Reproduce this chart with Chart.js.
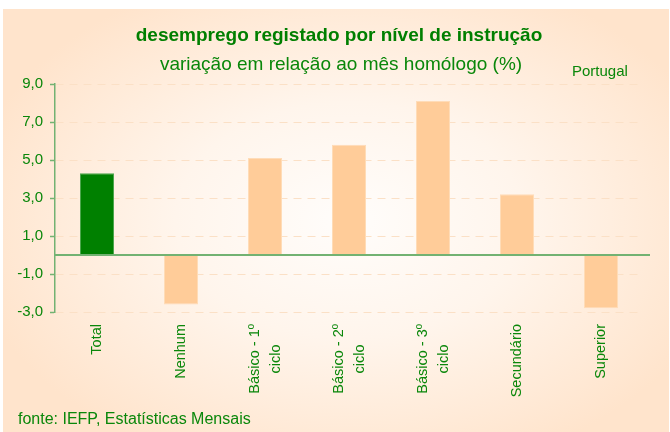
<!DOCTYPE html>
<html>
<head>
<meta charset="utf-8">
<script src="https://cdn.jsdelivr.net/npm/chart.js@4.4.1/dist/chart.umd.min.js"></script>
<style>
    html, body { margin: 0; padding: 0; background: #fff; }
    #wrap { position: relative; width: 670px; height: 432px; }
    #bg {
        position: absolute; left: 3px; top: 9px; width: 666px; height: 423px;
        background: radial-gradient(ellipse 58% 62% at 52% 50%, #fffdfb 0%, #fff5ec 45%, #ffe4cc 100%);
    }
    canvas { position: absolute; left: 0; top: 0; }
</style>
</head>
<body>
<div id="wrap">
    <div id="bg"></div>
    <canvas id="chart" width="670" height="432"></canvas>
</div>
<script>
const categories = ['Total', 'Nenhum', 'Básico - 1º ciclo', 'Básico - 2º ciclo', 'Básico - 3º ciclo', 'Secundário', 'Superior'];
const tickLabels = [
    ['Total'],
    ['Nenhum'],
    ['Básico - 1º', 'ciclo'],
    ['Básico - 2º', 'ciclo'],
    ['Básico - 3º', 'ciclo'],
    ['Secundário'],
    ['Superior']
];
const values = [4.3, -2.6, 5.1, 5.8, 8.1, 3.2, -2.8];
const yTicks = [-3, -1, 1, 3, 5, 7, 9];

const green = '#0a870a';
const font = '"Liberation Sans", Arial, sans-serif';
const barColors = ['#008000', '#ffcc99', '#ffcc99', '#ffcc99', '#ffcc99', '#ffcc99', '#ffcc99'];
const barBorders = ['#4ea64e', '#ffdcb8', '#ffdcb8', '#ffdcb8', '#ffdcb8', '#ffdcb8', '#ffdcb8'];

const zeroLine = {
    id: 'zeroLine',
    afterDatasetsDraw(chart) {
        const { ctx, chartArea, scales } = chart;
        const y = scales.y.getPixelForValue(0);
        ctx.save();
        ctx.strokeStyle = '#72b272';
        ctx.lineWidth = 2;
        ctx.beginPath();
        ctx.moveTo(chartArea.left, y);
        ctx.lineTo(chartArea.right + 7, y);
        ctx.stroke();
        ctx.restore();
    }
};

// rotated category labels, each line centred, block centred on its bar
const xLabels = {
    id: 'xLabels',
    afterDraw(chart) {
        const { ctx, scales } = chart;
        const lh = 21;
        ctx.save();
        ctx.font = '14.5px ' + font;
        ctx.fillStyle = green;
        ctx.textAlign = 'center';
        ctx.textBaseline = 'middle';
        tickLabels.forEach((lines, i) => {
            const px = scales.x.getPixelForValue(i);
            const w = Math.max(...lines.map(l => ctx.measureText(l).width));
            const yc = scales.x.top + 12 + w / 2;
            ctx.save();
            ctx.translate(px, yc);
            ctx.rotate(-Math.PI / 2);
            lines.forEach((l, k) => {
                ctx.fillText(l, 0, (k - (lines.length - 1) / 2) * lh);
            });
            ctx.restore();
        });
        ctx.restore();
    }
};

const texts = {
    id: 'texts',
    afterDraw(chart) {
        const { ctx } = chart;
        ctx.save();
        ctx.textBaseline = 'alphabetic';

        ctx.textAlign = 'center';
        ctx.font = 'bold 19px ' + font;
        ctx.fillStyle = '#007f00';
        ctx.fillText('desemprego registado por nível de instrução', 339, 41);

        ctx.fillStyle = green;
        ctx.font = '19px ' + font;
        ctx.fillText('variação em relação ao mês homólogo (%)', 341, 70);

        ctx.textAlign = 'left';
        ctx.font = '15px ' + font;
        ctx.fillText('Portugal', 572, 76);

        ctx.font = '16px ' + font;
        ctx.fillText('fonte: IEFP, Estatísticas Mensais', 18, 424);
        ctx.restore();
    }
};

new Chart(document.getElementById('chart').getContext('2d'), {
    type: 'bar',
    data: {
        labels: categories,
        datasets: [{
            data: values,
            backgroundColor: barColors,
            borderColor: barBorders,
            borderWidth: 1,
            barPercentage: 0.405,
            categoryPercentage: 1
        }]
    },
    options: {
        responsive: false,
        animation: false,
        layout: {
            padding: { left: 0, right: 27, top: 84, bottom: 0 }
        },
        plugins: {
            legend: { display: false },
            tooltip: { enabled: false }
        },
        scales: {
            x: {
                grid: { display: false, drawTicks: false },
                border: { display: false },
                ticks: { display: false },
                afterFit(scale) { scale.height = 120; }
            },
            y: {
                min: yTicks[0],
                max: yTicks[yTicks.length - 1],
                afterBuildTicks(scale) {
                    scale.ticks = yTicks.map(v => ({ value: v }));
                },
                ticks: {
                    padding: 7,
                    color: green,
                    font: { family: font, size: 15 },
                    callback: v => v.toFixed(1).replace('.', ',')
                },
                grid: {
                    color: '#fbe0c6',
                    lineWidth: 1,
                    drawTicks: true,
                    tickLength: 5,
                    tickColor: '#72b272',
                    tickWidth: 1.5
                },
                border: { color: '#72b272', width: 1.5, dash: [8, 6] },
                afterFit(scale) { scale.width = 55; }
            }
        }
    },
    plugins: [zeroLine, xLabels, texts]
});
</script>
</body>
</html>
